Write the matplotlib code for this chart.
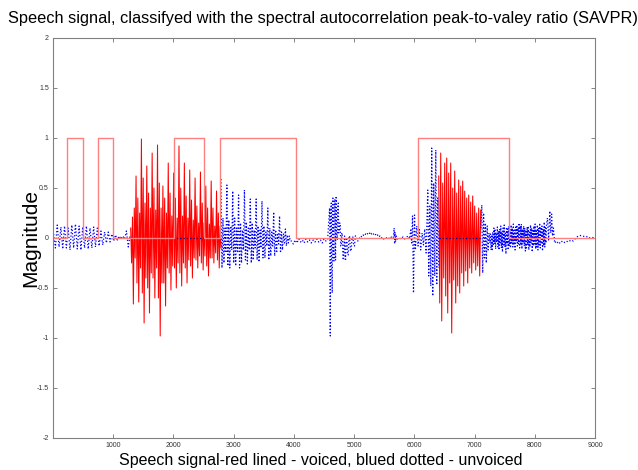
import numpy as np
import matplotlib
matplotlib.use("Agg")
import matplotlib.pyplot as plt

plt.rcParams['font.family'] = ['Liberation Sans', 'DejaVu Sans']

# --- data (sample index, magnitude) ---

# unvoiced start, x 10 .. 1280
seg_a_start, seg_a_end = 10, 1280
seg_a = [0.04, -0.10, 0.13, -0.09, 0.11, -0.11, 0.12, -0.10, 0.10, -0.12,
         0.13, -0.10, 0.14, -0.11, 0.12, -0.12, 0.11, -0.10, 0.12, -0.11,
         0.10, -0.10, 0.11, -0.09, 0.10, -0.08, 0.07, -0.07, 0.06, -0.05,
         0.06, -0.04, 0.04, -0.03, 0.03, -0.02, 0.02, -0.01, 0.02, -0.01,
         0.07, -0.09, 0.03]

# voiced part 1, x 1290 .. 2790
seg_b_start, seg_b_end = 1290, 2790
seg_b = [0.10, -0.25, 0.21, -0.66, 0.30, -0.20,
         0.62, -0.45, 0.40, -0.64, 0.25, -0.30,
         0.99, -0.55, 0.60, -0.85, 0.35, -0.40,
         0.72, -0.50, 0.45, -0.75, 0.30, -0.35,
         0.85, -0.40, 0.50, -0.60, 0.28, -0.30,
         0.93, -0.60, 0.55, -0.98, 0.30, -0.45,
         0.52, -0.45, 0.40, -0.68, 0.25, -0.30,
         0.75, -0.35, 0.45, -0.52, 0.22, -0.28,
         0.65, -0.30, 0.40, -0.50, 0.20, -0.25,
         0.92, -0.35, 0.50, -0.48, 0.22, -0.25,
         0.75, -0.30, 0.42, -0.45, 0.20, -0.22,
         0.68, -0.28, 0.38, -0.40, 0.18, -0.20,
         0.60, -0.22, 0.32, -0.30, 0.15, -0.18,
         0.66, -0.25, 0.35, -0.32, 0.15, -0.18,
         0.52, -0.28, 0.30, -0.38, 0.14, -0.20,
         0.57, -0.20, 0.30, -0.25, 0.12, -0.15,
         0.47, -0.22, 0.25, -0.30, 0.12, -0.10]

# unvoiced decaying part, x 2790 .. 3940
seg_c_start, seg_c_end = 2790, 3940
seg_c = [0.59, -0.30, 0.20, -0.25, 0.10, -0.15,
         0.53, -0.28, 0.18, -0.30, 0.12, -0.12,
         0.47, -0.25, 0.20, -0.28, 0.10, -0.15,
         0.43, -0.30, 0.15, -0.25, 0.08, -0.12,
         0.48, -0.22, 0.16, -0.26, 0.10, -0.12,
         0.39, -0.25, 0.15, -0.22, 0.08, -0.10,
         0.39, -0.22, 0.12, -0.24, 0.08, -0.10,
         0.37, -0.20, 0.12, -0.20, 0.06, -0.08,
         0.30, -0.22, 0.10, -0.18, 0.06, -0.08,
         0.26, -0.18, 0.08, -0.15, 0.05, -0.06,
         0.22, -0.15, 0.06, -0.12, 0.04, -0.05,
         0.09, -0.08, 0.03, -0.05, 0.02, -0.03]

# unvoiced burst and low part, x 3960 .. 6405
seg_d_x = [3960, 3990, 4020, 4050, 4080, 4110, 4140, 4170, 4200, 4230,
           4260, 4290, 4320, 4350, 4380, 4410, 4440, 4470, 4500, 4530,
           4560, 4593, 4604, 4612, 4620, 4628, 4637, 4643, 4648, 4656,
           4665, 4672, 4681, 4687, 4692, 4698, 4703, 4710, 4720, 4728,
           4737, 4745, 4753, 4762, 4770, 4778, 4786, 4795, 4803, 4815,
           4825, 4835, 4842, 4850, 4858, 4870, 4880, 4892, 4902, 4915,
           4925, 4940, 4952, 4966, 4980, 4995, 5007, 5020, 5035, 5050,
           5063, 5090, 5110, 5130, 5150, 5170, 5190, 5210, 5230, 5250,
           5270, 5290, 5310, 5330, 5350, 5370, 5390, 5410, 5430, 5450,
           5470, 5490, 5510, 5533, 5560, 5590, 5620, 5650, 5665, 5672,
           5680, 5688, 5700, 5720, 5750, 5780, 5810, 5840, 5870, 5900,
           5920, 5940, 5955, 5970, 5986, 6003, 6018, 6040, 6062, 6084,
           6106, 6129, 6151, 6173, 6195, 6223, 6239, 6256, 6273, 6289,
           6306, 6322, 6339, 6356, 6372, 6388, 6405]
seg_d = [-0.03, -0.06, -0.02, -0.05, -0.01, -0.04, -0.02, -0.05, -0.01, -0.04,
         -0.02, -0.05, -0.02, -0.04, -0.01, -0.04, -0.02, -0.05, -0.01, -0.03,
         -0.02, 0.30, -0.98, 0.20, 0.35, -0.30, -0.55, 0.30, 0.40, -0.10,
         -0.23, 0.38, 0.39, -0.10, -0.22, 0.35, 0.42, 0.05, -0.02, 0.30,
         0.35, 0.05, 0.08, 0.15, 0.15, -0.08, -0.08, 0.05, 0.05, -0.21,
         -0.22, 0.02, 0.02, -0.20, -0.23, 0.00, 0.00, -0.16, -0.17, 0.02,
         0.02, -0.13, -0.13, 0.01, 0.01, -0.08, -0.08, 0.02, 0.02, -0.03,
         -0.03, 0.00, 0.02, 0.01, 0.03, 0.02, 0.04, 0.03, 0.05, 0.04,
         0.06, 0.04, 0.05, 0.03, 0.04, 0.02, 0.03, 0.01, 0.02, 0.00,
         0.01, -0.01, 0.00, 0.00, 0.01, -0.01, 0.01, 0.00, 0.10, -0.06,
         0.06, -0.04, 0.02, -0.01, 0.00, -0.01, 0.01, -0.01, 0.01, 0.02,
         -0.01, 0.08, -0.05, 0.22, -0.55, 0.23, -0.12, 0.12, -0.08, 0.085,
         -0.12, 0.05, -0.07, 0.09, -0.15, 0.48, -0.38, 0.32, -0.48, 0.90,
         -0.58, 0.55, -0.38, 0.88, -0.47, 0.40, -0.30]

# voiced part 2, x 6405 .. 7102
seg_e_start, seg_e_end = 6405, 7102
seg_e = [0.62, -0.65, 0.85, -0.83, 0.55, -0.40, 0.75, -0.58, 0.80, -0.75,
         0.65, -0.45, 0.75, -0.95, 0.50, -0.42, 0.67, -0.65, 0.45, -0.48,
         0.58, -0.55, 0.52, -0.35, 0.57, -0.48, 0.47, -0.33, 0.40, -0.45,
         0.43, -0.30, 0.36, -0.35, 0.42, -0.25, 0.32, -0.32, 0.25, -0.28,
         0.30, -0.38, 0.28]

# unvoiced noise after, x 7107 .. 9000
seg_f_x = [7107, 7120, 7135, 7150, 7165, 7180, 7195, 7210, 7225, 7240]
seg_f = [0.10, 0.33, -0.35, 0.25, -0.20, 0.15, -0.25, 0.12, -0.12, 0.05]
noise_start, noise_end = 7255, 8195
noise = [-0.05, 0.04, -0.12, 0.02, -0.13, 0.06, -0.08, 0.10, -0.06, 0.08,
         -0.11, 0.05, -0.04, 0.11, -0.09, 0.07, -0.12, 0.09, -0.05, 0.12,
         -0.10, 0.06, -0.14, 0.10, -0.07, 0.13, -0.09, 0.05, -0.16, 0.11,
         -0.06, 0.09, -0.12, 0.12, -0.08, 0.07, -0.10, 0.13, -0.05, 0.10,
         -0.09, 0.14, -0.07, 0.08, -0.12, 0.11, -0.04, 0.13, -0.08, 0.10,
         -0.06, 0.15, -0.10, 0.12, -0.07, 0.14, -0.11, 0.09, -0.05, 0.12,
         -0.08, 0.10, -0.13, 0.08, -0.10, 0.11, -0.07, 0.12, -0.12, 0.06,
         -0.09, 0.13, -0.05, 0.10, -0.14, 0.09, -0.08, 0.12, -0.06, 0.14,
         -0.11, 0.07, -0.09, 0.13, -0.12, 0.10, -0.07, 0.15, -0.10, 0.11,
         -0.06, 0.12, -0.13, 0.09, -0.08, 0.16, -0.09, 0.12, -0.05, 0.14]
tail_x = [8210, 8230, 8250, 8265, 8280, 8295, 8310, 8330, 8360, 8400,
          8440, 8480, 8520, 8560, 8600, 8640, 8680, 8720, 8760, 8800,
          8840, 8880, 8920, 8960, 9000]
tail = [0.20, -0.02, 0.27, 0.05, 0.24, 0.02, 0.10, -0.05, -0.03, -0.06,
        -0.03, -0.05, -0.03, -0.04, -0.02, -0.03, 0.00, 0.02, 0.025, 0.02,
        0.01, 0.015, 0.00, 0.005, 0.00]

# voiced / unvoiced decision (SAVPR), change points
dec_edges = [0, 240, 490, 750, 1000, 2010, 2510, 2780, 4040, 6060, 7570, 9000]
dec_level = [0, 1, 0, 1, 0, 1, 0, 1, 0, 1, 0]

# --- build series ---
xa = np.linspace(seg_a_start, seg_a_end, len(seg_a))
xb = np.linspace(seg_b_start, seg_b_end, len(seg_b))
xc = np.linspace(seg_c_start, seg_c_end, len(seg_c))
xe = np.linspace(seg_e_start, seg_e_end, len(seg_e))
xn = np.linspace(noise_start, noise_end, len(noise))

# unvoiced pieces, each runs into the next one
blue_1 = (xa, seg_a)
blue_2 = (np.concatenate([xc, seg_d_x]), np.concatenate([seg_c, seg_d]))
blue_3 = (np.concatenate([seg_f_x, xn, tail_x]), np.concatenate([seg_f, noise, tail]))

fig = plt.figure(figsize=(6.38, 4.70), dpi=100)
ax = fig.add_axes([53 / 638, 32 / 470, 542 / 638, 400 / 470])

# voiced signal in red
ax.plot(xb, seg_b, color='red', lw=0.75)
ax.plot(xe, seg_e, color='red', lw=0.75)

# unvoiced signal, blue dotted (zero where voiced)
for bx, by in (blue_1, blue_2, blue_3):
    ax.plot(bx, by, color='blue', ls=':', lw=0.9)
ax.plot([seg_a_end, seg_c_start], [0, 0], color='#000080', ls=':', lw=0.9)
ax.plot([seg_e_start, seg_e_end], [0, 0], color='#000080', ls=':', lw=0.9)

# decision curve
ax.step(dec_edges, dec_level + [dec_level[-1]], where='post',
        color='#ff7f7f', lw=1.0)

ax.set_xlim(0, 9000)
ax.set_ylim(-2, 2)
ax.set_xticks(range(1000, 9001, 1000))
ax.set_yticks([-2, -1.5, -1, -0.5, 0, 0.5, 1, 1.5, 2])
ax.set_yticklabels(['-2', '-1.5', '-1', '-0.5', '0', '0.5', '1', '1.5', '2'])
ax.tick_params(direction='in', top=True, right=True, length=3, width=0.6,
               color='#707070', labelsize=5, labelcolor='#333333', pad=3)
for s in ax.spines.values():
    s.set_color('#808080')
    s.set_linewidth(0.8)

fig.text(0.506, 1 - 18 / 470,
         'Speech signal, classifyed with the spectral autocorrelation peak-to-valey ratio (SAVPR)',
         ha='center', va='center', fontsize=11.8)
fig.text(321 / 638, 1 - 461 / 470,
         'Speech signal-red lined - voiced, blued dotted - unvoiced',
         ha='center', va='center', fontsize=11.5)
fig.text(31 / 638, 1 - 238 / 470, 'Magnitude', rotation=90,
         ha='center', va='center', fontsize=15)

fig.savefig('out.png', dpi=100)
